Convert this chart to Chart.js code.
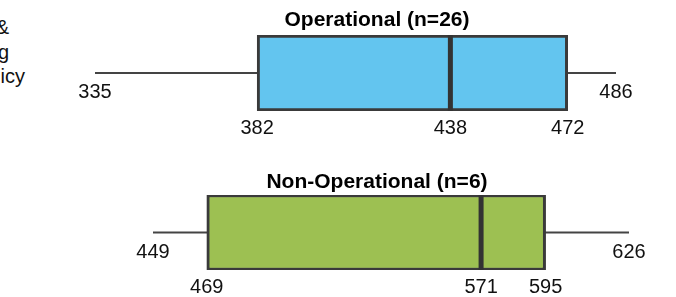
<!DOCTYPE html>
<html>
<head>
<meta charset="utf-8">
<script src="https://cdn.jsdelivr.net/npm/chart.js@4/dist/chart.umd.min.js"></script>
<style>
  html, body { margin: 0; padding: 0; background: #fff; }
  body { width: 676px; height: 297px; position: relative; overflow: hidden; font-family: "Liberation Sans", Arial, sans-serif; }
  canvas { position: absolute; left: 0; }
  .side { position: absolute; right: 0; font-size: 20px; color: #111; text-align: right; white-space: nowrap; }
</style>
</head>
<body>
<!-- cut-off text from the neighbouring panel -->
<div class="side" style="left:-40px; width:49px; top:16px;">&amp;</div>
<div class="side" style="left:-40px; width:49px; top:41px;">g</div>
<div class="side" style="left:-40px; width:65px; top:65px;">icy</div>

<canvas id="chart-op" width="676" height="150" style="top:0"></canvas>
<canvas id="chart-nonop" width="676" height="147" style="top:150px"></canvas>

<script>
// --- DATA ---
const groups = ['Operational (n=26)', 'Non-Operational (n=6)'];
const minValues = [335, 449];
const q1Values = [382, 469];
const medianValues = [438, 571];
const q3Values = [472, 595];
const maxValues = [486, 626];

// --- STYLE ---
const boxColors = ['#63c5ef', '#9dc052'];
const edgeColor = '#3a3a3a';
const labelFont = '20px "Liberation Sans", Arial, sans-serif';
const titleFont = 'bold 21px "Liberation Sans", Arial, sans-serif';

// value labels under whisker ends and box edges, plus the group title
const boxLabels = {
    id: 'boxLabels',
    afterDatasetsDraw(chart, args, opts) {
        const { ctx, chartArea, scales } = chart;
        const i = opts.group;
        const whiskerY = scales.y.getPixelForValue(0);
        ctx.save();
        ctx.fillStyle = '#111';
        ctx.textAlign = 'center';
        ctx.textBaseline = 'alphabetic';
        ctx.font = labelFont;
        [minValues[i], maxValues[i]].forEach(v => {
            ctx.fillText(String(v), scales.x.getPixelForValue(v), whiskerY + 25);
        });
        [q1Values[i], medianValues[i], q3Values[i]].forEach(v => {
            ctx.fillText(String(v), scales.x.getPixelForValue(v), chartArea.bottom + 23);
        });
        ctx.font = titleFont;
        ctx.fillStyle = '#000';
        ctx.fillText(groups[i], 377, chartArea.top - opts.titleGap);
        ctx.restore();
    }
};

function makeBoxChart(canvasId, i, padding, titleGap) {
    const ctx = document.getElementById(canvasId).getContext('2d');
    return new Chart(ctx, {
        type: 'bar',
        data: {
            datasets: [
                {
                    // median
                    type: 'line',
                    data: [{ x: medianValues[i], y: -1 }, { x: medianValues[i], y: 1 }],
                    borderColor: '#333',
                    borderWidth: 5,
                    pointRadius: 0,
                    order: 1
                },
                {
                    // interquartile box
                    type: 'bar',
                    indexAxis: 'y',
                    data: [{ x: [q1Values[i], q3Values[i]], y: 0 }],
                    backgroundColor: boxColors[i],
                    borderColor: edgeColor,
                    borderWidth: 3,
                    borderSkipped: false,
                    barThickness: 76,
                    order: 2
                },
                {
                    // whisker
                    type: 'line',
                    data: [{ x: minValues[i], y: 0 }, { x: maxValues[i], y: 0 }],
                    borderColor: '#444',
                    borderWidth: 2,
                    pointRadius: 0,
                    order: 3
                }
            ]
        },
        options: {
            responsive: false,
            animation: false,
            layout: { padding: padding },
            plugins: {
                legend: { display: false },
                tooltip: { enabled: false },
                boxLabels: { group: i, titleGap: titleGap }
            },
            scales: {
                x: { type: 'linear', min: minValues[i], max: maxValues[i], offset: false, display: false },
                y: { type: 'linear', min: -1, max: 1, offset: false, display: false }
            }
        },
        plugins: [boxLabels]
    });
}

makeBoxChart('chart-op', 0, { left: 95, right: 60, top: 35, bottom: 39 }, 9);
makeBoxChart('chart-nonop', 1, { left: 153, right: 47, top: 45, bottom: 27 }, 7);
</script>
</body>
</html>
